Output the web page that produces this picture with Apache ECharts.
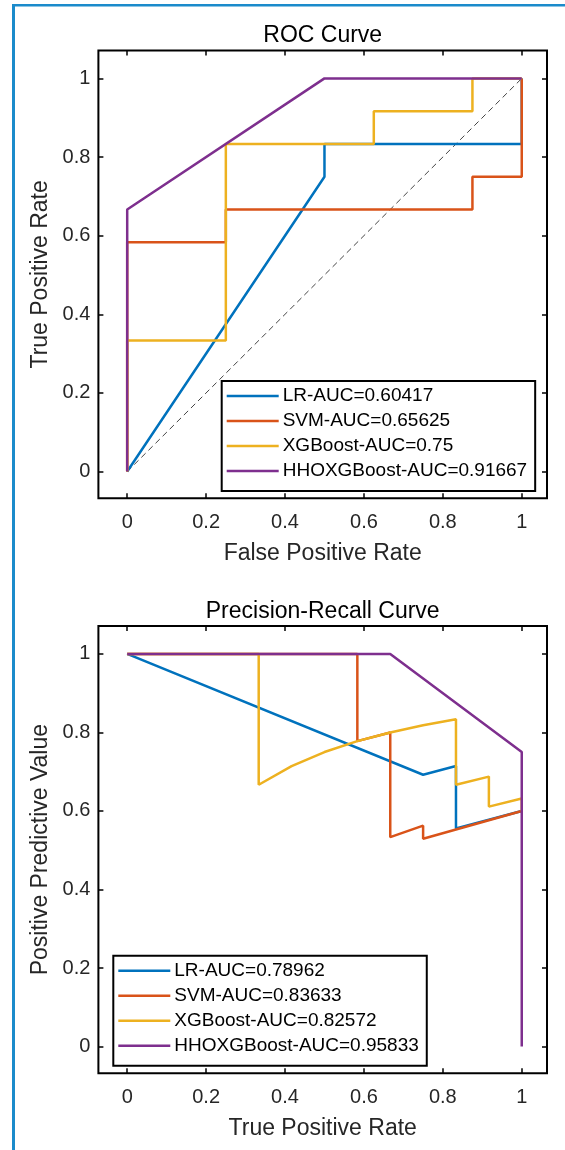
<!DOCTYPE html>
<html>
<head>
<meta charset="utf-8">
<script src="https://cdn.jsdelivr.net/npm/echarts@6/dist/echarts.min.js"></script>
<style>
html,body{margin:0;padding:0;background:#fff;}
#chart{width:565px;height:1150px;}
</style>
</head>
<body>
<div id="chart"></div>
<script>
// ---- data ----
var tickValues = [0, 0.2, 0.4, 0.6, 0.8, 1];
var colors = ['#0072BD', '#D95319', '#EDB120', '#7E2F8E'];

var rocNames = ['LR-AUC=0.60417', 'SVM-AUC=0.65625', 'XGBoost-AUC=0.75', 'HHOXGBoost-AUC=0.91667'];
var rocLR  = [[0,0],[0.5,0.75],[0.5,0.8333],[1,0.8333],[1,1]];
var rocSVM = [[0,0],[0,0.5833],[0.25,0.5833],[0.25,0.6667],[0.875,0.6667],[0.875,0.75],[1,0.75],[1,1]];
var rocXGB = [[0,0],[0,0.3333],[0.25,0.3333],[0.25,0.8333],[0.625,0.8333],[0.625,0.9167],[0.875,0.9167],[0.875,1],[1,1]];
var rocHHO = [[0,0],[0,0.6667],[0.5,1],[1,1]];
var rocDiag = [[0,0],[1,1]];

var prNames = ['LR-AUC=0.78962', 'SVM-AUC=0.83633', 'XGBoost-AUC=0.82572', 'HHOXGBoost-AUC=0.95833'];
var prLR  = [[0,1],[0.75,0.6923],[0.8333,0.7143],[0.8333,0.5556],[1,0.6]];
var prSVM = [[0,1],[0.5833,1],[0.5833,0.7778],[0.6667,0.8],[0.6667,0.5333],[0.75,0.5625],[0.75,0.5294],[1,0.6]];
var prXGB = [[0,1],[0.3333,1],[0.3333,0.6667],[0.4167,0.7143],[0.5,0.75],[0.5833,0.7778],[0.6667,0.8],[0.75,0.8182],[0.8333,0.8333],[0.8333,0.6667],[0.9167,0.6875],[0.9167,0.6111],[1,0.6316],[1,0.6]];
var prHHO = [[0,1],[0.6667,1],[1,0.75],[1,0]];

// ---- layout ----
var FONT = 'Liberation Sans, Arial, Helvetica, sans-serif';
var XMIN = -0.073, XMAX = 1.064, YMIN = -0.068, YMAX = 1.071;
var gridLeft = 98.4, gridWidth = 448.6;

function xAx(gi, pos, name) {
  var main = pos === 'bottom';
  return {
    type: 'value', gridIndex: gi, position: pos, min: XMIN, max: XMAX,
    axisLine: {show: false, onZero: false},
    axisTick: {show: true, inside: true, length: 5, customValues: tickValues, lineStyle: {color: '#000', width: 1.5}},
    axisLabel: {show: main, customValues: tickValues, margin: 14, fontSize: 20, color: '#262626', fontFamily: FONT},
    splitLine: {show: false},
    name: main ? name : '', nameLocation: 'middle', nameGap: 44,
    nameTextStyle: {fontSize: 23, color: '#262626', fontFamily: FONT}
  };
}
function yAx(gi, pos, name) {
  var main = pos === 'left';
  return {
    type: 'value', gridIndex: gi, position: pos, min: YMIN, max: YMAX,
    axisLine: {show: false, onZero: false},
    axisTick: {show: true, inside: true, length: 5, customValues: tickValues, lineStyle: {color: '#000', width: 1.5}},
    axisLabel: {show: main, customValues: tickValues, margin: 8, fontSize: 20, color: '#262626', fontFamily: FONT},
    splitLine: {show: false},
    name: main ? name : '', nameLocation: 'middle', nameGap: 38,
    nameTextStyle: {fontSize: 23, color: '#262626', fontFamily: FONT}
  };
}
function ser(name, data, xi, yi, color, z) {
  return {
    name: name, type: 'line', data: data, xAxisIndex: xi, yAxisIndex: yi,
    symbol: 'none', showSymbol: false, smooth: false, animation: false,
    lineStyle: {color: color, width: 2.5}, itemStyle: {color: color}, z: z
  };
}
function legend(names, left, top) {
  return {
    data: names, orient: 'vertical', left: left, top: top,
    icon: 'rect', itemWidth: 52, itemHeight: 2.5, itemGap: 5,
    padding: [5, 8, 10, 5],
    backgroundColor: '#fff', borderColor: '#000', borderWidth: 2,
    selectedMode: false,
    textStyle: {fontSize: 19, color: '#000', fontFamily: FONT, lineHeight: 20, padding: [0,0,0,-1]},
    z: 10
  };
}

var option = {
  backgroundColor: '#fff',
  animation: false,
  graphic: [
    {type: 'rect', shape: {x: 12, y: 4, width: 560, height: 2.5}, style: {fill: '#1b8bcb'}, z: 100},
    {type: 'rect', shape: {x: 12, y: 4, width: 3, height: 1150}, style: {fill: '#1b8bcb'}, z: 100}
  ],
  title: [
    {text: 'ROC Curve', left: gridLeft + gridWidth / 2, top: 24.5, textAlign: 'center', padding: 0,
     textStyle: {fontSize: 23, fontWeight: 'normal', color: '#000', fontFamily: FONT, lineHeight: 23}},
    {text: 'Precision-Recall Curve', left: gridLeft + gridWidth / 2, top: 600.5, textAlign: 'center', padding: 0,
     textStyle: {fontSize: 23, fontWeight: 'normal', color: '#000', fontFamily: FONT, lineHeight: 23}}
  ],
  grid: [
    {left: gridLeft, top: 50.5, width: gridWidth, height: 447.8, show: true, borderColor: '#000', borderWidth: 2, backgroundColor: '#fff'},
    {left: gridLeft, top: 626, width: gridWidth, height: 447.3, show: true, borderColor: '#000', borderWidth: 2, backgroundColor: '#fff'}
  ],
  xAxis: [
    xAx(0, 'bottom', 'False Positive Rate'),
    xAx(0, 'top', ''),
    xAx(1, 'bottom', 'True Positive Rate'),
    xAx(1, 'top', '')
  ],
  yAxis: [
    yAx(0, 'left', 'True Positive Rate'),
    yAx(0, 'right', ''),
    yAx(1, 'left', 'Positive Predictive Value'),
    yAx(1, 'right', '')
  ],
  legend: [
    legend(rocNames, 221.7, 381),
    legend(prNames, 113.3, 955.7)
  ],
  series: [
    ser(rocNames[0], rocLR, 0, 0, colors[0], 3),
    ser(rocNames[1], rocSVM, 0, 0, colors[1], 4),
    ser(rocNames[2], rocXGB, 0, 0, colors[2], 5),
    ser(rocNames[3], rocHHO, 0, 0, colors[3], 6),
    {name: 'diag', type: 'line', data: rocDiag, xAxisIndex: 0, yAxisIndex: 0, symbol: 'none', animation: false,
     lineStyle: {color: '#444', width: 1, type: [6, 4]}, z: 2},
    ser(prNames[0], prLR, 2, 2, colors[0], 3),
    ser(prNames[1], prSVM, 2, 2, colors[1], 4),
    ser(prNames[2], prXGB, 2, 2, colors[2], 5),
    ser(prNames[3], prHHO, 2, 2, colors[3], 6)
  ]
};

var chart = echarts.init(document.getElementById('chart'), null, {renderer: 'canvas'});
chart.setOption(option);
</script>
</body>
</html>
